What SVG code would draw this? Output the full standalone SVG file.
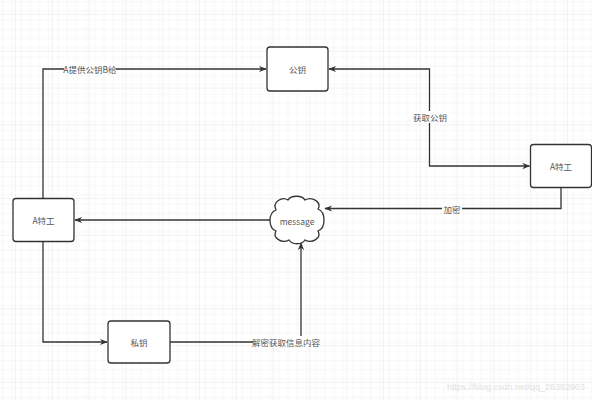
<svg xmlns="http://www.w3.org/2000/svg" width="592" height="400" viewBox="0 0 592 400">
<defs>
<pattern id="minor" width="9.2" height="9.2" patternUnits="userSpaceOnUse" x="5.8" y="5.8">
<path d="M9.2 0H0V9.2" fill="none" stroke="#f0f0f0" stroke-width="1"/>
</pattern>
<pattern id="major" width="36.8" height="36.8" patternUnits="userSpaceOnUse" x="15" y="14">
<rect width="36.8" height="36.8" fill="url(#minor)"/>
<path d="M36.8 0H0V36.8" fill="none" stroke="#e6e6e6" stroke-width="1"/>
</pattern>
<marker id="arr" viewBox="0 0 10 10" refX="9" refY="5" markerWidth="8" markerHeight="8" markerUnits="userSpaceOnUse" orient="auto-start-reverse">
<path d="M0 1L10 5L0 9L3 5Z" fill="#333"/>
</marker>
</defs>
<style>
.box{fill:#fff;stroke:#333;stroke-width:1.3}
.t{font-family:"Noto Sans CJK SC","Liberation Sans",sans-serif;font-size:8.5px;fill:#555;text-anchor:middle;dominant-baseline:central}
.lbl{font-family:"Noto Sans CJK SC","Liberation Sans",sans-serif;font-size:8.5px;fill:#555;text-anchor:middle;dominant-baseline:central}
.lb{fill:#fff}
.c{fill:none;stroke:#333;stroke-width:1.3}
</style>
<rect width="592" height="400" fill="#fff"/>
<rect width="592" height="400" fill="url(#major)"/>
<g id="connectors">
<path class="c" d="M43 198V69H266" marker-end="url(#arr)"/>
<path class="c" d="M529.5 166H429.5V69H329" marker-start="url(#arr)" marker-end="url(#arr)"/>
<path class="c" d="M561 188V208.5H325" marker-end="url(#arr)"/>
<path class="c" d="M270 220H75" marker-end="url(#arr)"/>
<path class="c" d="M43 242V342H107" marker-end="url(#arr)"/>
<path class="c" d="M170 342H301V243" marker-end="url(#arr)"/>
<rect class="lb" x="64" y="63" width="52" height="12"/>
<text class="lbl" x="90" y="69">A提供公钥B给</text>
<rect class="lb" x="412" y="111" width="36" height="12"/>
<text class="lbl" x="430" y="117">获取公钥</text>
<rect class="lb" x="442" y="202.5" width="20" height="12"/>
<text class="lbl" x="452" y="208.5">加密</text>
<rect class="lb" x="253" y="336" width="66" height="12"/>
<text class="lbl" x="286" y="342">解密获取信息内容</text>
</g>
<g id="pubkey">
<rect class="box" x="267" y="47" width="61" height="44" rx="3"/>
<text class="t" x="297.5" y="69">公钥</text>
</g>
<g id="agentA-right">
<rect class="box" x="530.5" y="144.5" width="61" height="43" rx="3"/>
<text class="t" x="561" y="166">A特工</text>
</g>
<g id="message">
<path class="box" d="M276 210C272 202 282 196 288 200C291 195 302 195 305 200C312 196 322 202 318 209C326 212 326 228 318 231C322 238 312 244 305 240C302 245 292 245 289 240C282 244 272 238 276 231C268 228 268 213 276 210Z"/>
<text class="t" x="297" y="220.5" font-family="Liberation Sans,sans-serif">message</text>
</g>
<g id="agentA-left">
<rect class="box" x="13" y="198.5" width="61" height="43" rx="3"/>
<text class="t" x="43.5" y="220">A特工</text>
</g>
<g id="privkey">
<rect class="box" x="108" y="321" width="62" height="42" rx="3"/>
<text class="t" x="139" y="342">私钥</text>
</g>
<text x="585" y="390" font-family="Liberation Sans,sans-serif" font-size="9px" fill="#e2e2e2" text-anchor="end">https://blog.csdn.net/qq_28382903</text>
</svg>
